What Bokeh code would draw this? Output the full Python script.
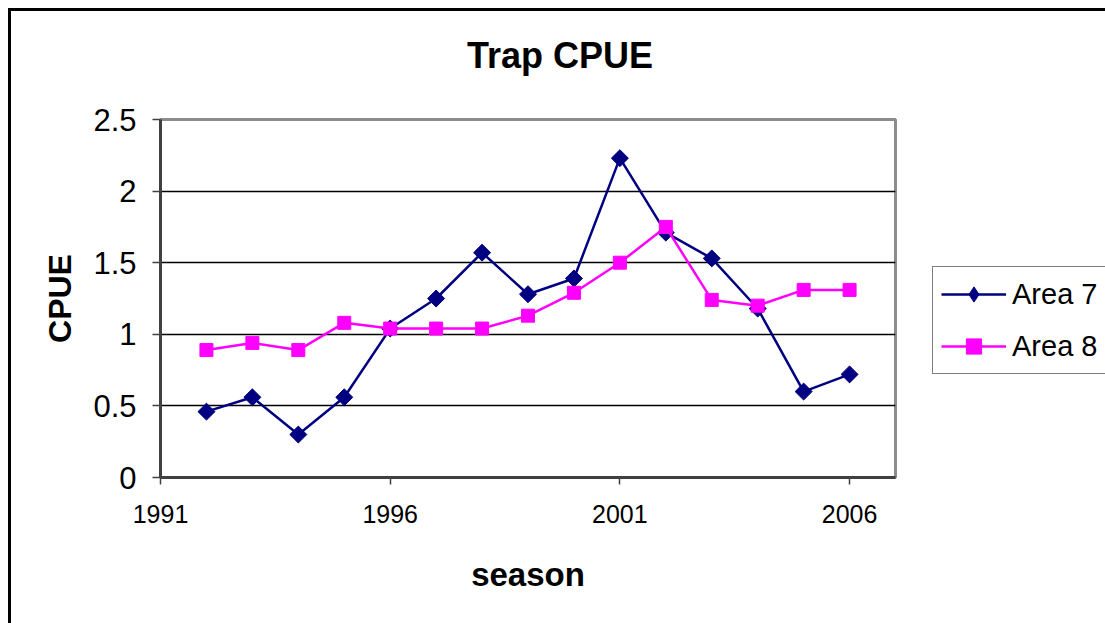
from bokeh.plotting import figure
from bokeh.models import FixedTicker, CustomJSTickFormatter, Legend, LegendItem, Range1d, Div
from bokeh.layouts import row, column
from bokeh.embed import file_html
from bokeh.resources import INLINE
import math

seasons = [1992, 1993, 1994, 1995, 1996, 1997, 1998, 1999, 2000, 2001, 2002, 2003, 2004, 2005, 2006]
area7 = [0.46, 0.56, 0.30, 0.56, 1.04, 1.25, 1.57, 1.28, 1.39, 2.23, 1.71, 1.53, 1.18, 0.60, 0.72]
area8 = [0.89, 0.94, 0.89, 1.08, 1.04, 1.04, 1.04, 1.13, 1.29, 1.50, 1.75, 1.24, 1.20, 1.31, 1.31]
series_names = ["Area 7", "Area 8"]
x_ticks = [1991, 1996, 2001, 2006]
y_ticks = [0, 0.5, 1, 1.5, 2, 2.5]
chart_title = "Trap CPUE"

FONT = "Liberation Sans"
navy = "#000080"
mag = "#ff00ff"

TITLE_H = 74

title_div = Div(text=chart_title, width=1094, height=TITLE_H, margin=0,
                styles={"font-family": FONT, "font-size": "36px", "font-weight": "bold",
                        "color": "black", "line-height": "1.15", "text-align": "center",
                        "padding-top": "24px", "padding-left": "4px",
                        "box-sizing": "border-box", "background": "white"})

p = figure(width=914, height=612 - TITLE_H, output_backend="svg", toolbar_location=None,
           x_range=Range1d(1991, 2007), y_range=Range1d(0, 2.5),
           min_border_left=149, min_border_right=30, min_border_top=108 - TITLE_H,
           min_border_bottom=146)

p.outline_line_color = "#8c8c8c"
p.outline_line_width = 3
p.background_fill_color = "white"
p.border_fill_color = "white"

p.xgrid.visible = False
p.ygrid.grid_line_color = "black"
p.ygrid.grid_line_width = 1.5

xa = p.below[0]
ya = p.left[0]
xa.ticker = FixedTicker(ticks=x_ticks)
ya.ticker = FixedTicker(ticks=y_ticks)
ya.formatter = CustomJSTickFormatter(code="return tick.toString();")
for ax in (xa, ya):
    ax.axis_line_color = "#404040"
    ax.axis_line_width = 3
    ax.major_tick_line_color = "#404040"
    ax.major_tick_line_width = 1.5
    ax.major_tick_in = 0
    ax.minor_tick_out = 0
    ax.minor_tick_in = 0
    ax.major_label_text_font = FONT
    ax.major_label_text_color = "black"
    ax.axis_label_text_font = FONT
    ax.axis_label_text_font_style = "bold"
    ax.axis_label_text_color = "black"

xa.major_tick_out = 7
xa.major_label_text_font_size = "25px"
xa.major_label_standoff = 20
xa.axis_label = "season"
xa.axis_label_text_font_size = "33px"
xa.axis_label_standoff = 30

ya.major_tick_out = 8
ya.major_label_text_font_size = "31px"
ya.major_label_standoff = 16
ya.axis_label = "CPUE"
ya.axis_label_text_font_size = "32px"
ya.axis_label_standoff = 12

p.line(seasons, area7, line_color=navy, line_width=2.5)
p.scatter(seasons, area7, marker="square", angle=math.pi / 4, size=12,
          fill_color=navy, line_color=navy)
p.line(seasons, area8, line_color=mag, line_width=2.5)
p.scatter(seasons, area8, marker="square", size=13, fill_color=mag, line_color=mag)

# legend panel: separate canvas (its frame lies beside the plot); the series
# drawn here fall outside its ranges and only supply the legend swatches
q = figure(width=180, height=612 - TITLE_H, output_backend="svg", toolbar_location=None,
           x_range=Range1d(0, 1), y_range=Range1d(0, 1),
           min_border=0, min_border_left=0, min_border_right=0,
           min_border_top=0, min_border_bottom=0)
q.axis.visible = False
q.grid.visible = False
q.outline_line_color = None
q.background_fill_color = "white"
q.border_fill_color = "white"
r7l = q.line(seasons, area7, line_color=navy, line_width=2.5)
r7m = q.scatter(seasons, area7, marker="diamond", size=21, fill_color=navy, line_color=navy)
r8l = q.line(seasons, area8, line_color=mag, line_width=2.5)
r8m = q.scatter(seasons, area8, marker="square", size=13, fill_color=mag, line_color=mag)

legend = Legend(items=[LegendItem(label=series_names[0], renderers=[r7l, r7m]),
                       LegendItem(label=series_names[1], renderers=[r8l, r8m])],
                location=(7, 103))
legend.label_text_font = FONT
legend.label_text_font_size = "29px"
legend.label_text_color = "black"
legend.glyph_width = 65
legend.glyph_height = 38
legend.label_height = 38
legend.label_standoff = 6
legend.spacing = 14
legend.padding = 8
legend.margin = 0
legend.border_line_color = "black"
legend.border_line_width = 1.5
legend.background_fill_color = "white"
q.add_layout(legend, "center")

layout = column(title_div, row(p, q, spacing=0), spacing=0)
layout.styles = {"margin-left": "8px", "margin-top": "8px",
                 "border-left": "3px solid black", "border-top": "3px solid black"}

open("out.html", "w").write(file_html(layout, INLINE))
